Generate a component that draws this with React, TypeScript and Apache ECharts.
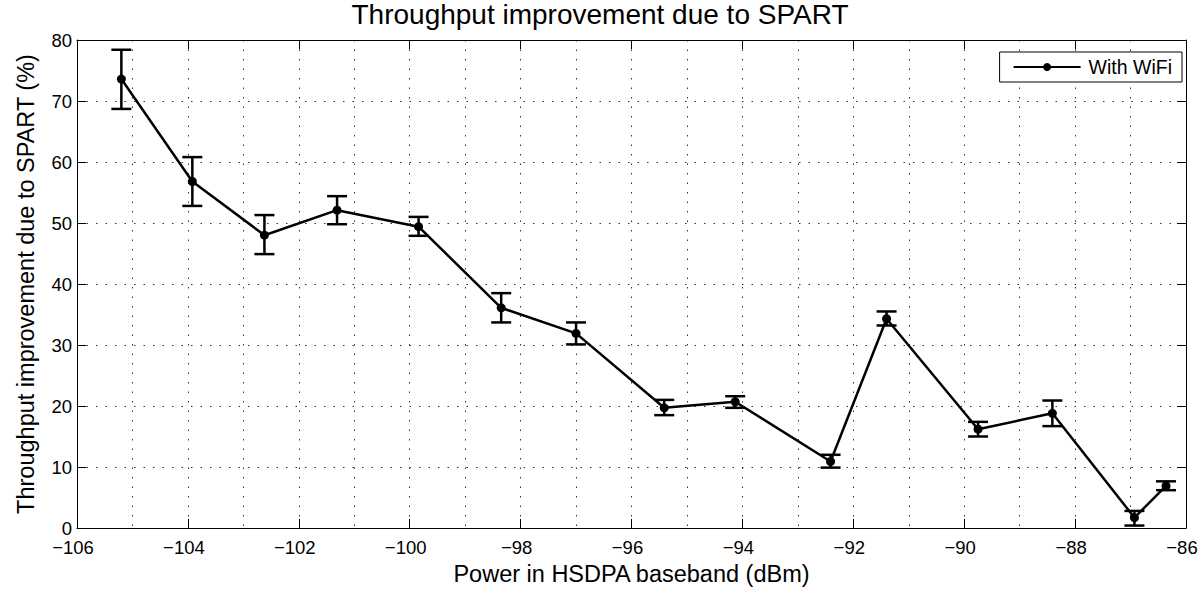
import React, { useEffect, useRef } from "react";
import * as echarts from "echarts";

const powerDbm = [-105.2, -103.92, -102.62, -101.31, -99.84, -98.35, -97.0, -95.41, -94.13, -92.41, -91.4, -89.75, -88.41, -86.93, -86.36];
const improvement = [73.6, 56.8, 48.0, 52.1, 49.4, 36.1, 31.9, 19.7, 20.7, 10.9, 34.3, 16.2, 18.8, 1.7, 6.9];
const errLow = [68.7, 52.8, 44.9, 49.8, 47.9, 33.7, 30.1, 18.5, 19.7, 9.9, 33.2, 15.0, 16.7, 0.4, 6.2];
const errHigh = [78.4, 60.8, 51.3, 54.4, 51.0, 38.5, 33.7, 21.0, 21.6, 12.0, 35.5, 17.4, 20.9, 2.8, 7.65];

const titleText = "Throughput improvement due to SPART";
const xLabel = "Power in HSDPA baseband (dBm)";
const yLabel = "Throughput improvement due to SPART (%)";
const seriesName = "With WiFi";

const FONT = "Liberation Sans, Arial, Helvetica, sans-serif";
const minus = (v: number) => String(v).replace("-", "\u2212");

export default function App() {
  const ref = useRef<HTMLDivElement>(null);
  useEffect(() => {
    if (!ref.current) return;
    const chart = echarts.init(ref.current, null, { renderer: "svg" });
    const dotted = { show: true, lineStyle: { color: "#333", width: 1, type: [1.5, 8] as any } };
    chart.setOption({
      animation: false,
      backgroundColor: "#fff",
      textStyle: { fontFamily: FONT, color: "#000" },
      title: {
        text: titleText,
        left: "center",
        top: 0,
        padding: [0, 0, 0, 0],
        textStyle: { fontFamily: FONT, fontSize: 28, fontWeight: "normal", color: "#000" },
      },
      legend: {
        data: [{ name: seriesName }],
        right: 18,
        top: 52,
        orient: "horizontal",
        backgroundColor: "#fff",
        borderColor: "#000",
        borderWidth: 1,
        borderRadius: 0,
        padding: [5, 10, 5, 13],
        itemWidth: 67,
        itemHeight: 10,
        itemGap: 6,
        textStyle: { fontFamily: FONT, fontSize: 19.5, color: "#000", padding: [0, 0, 0, 3] },
      },
      grid: { left: 77, right: 14, top: 40, bottom: 66, containLabel: false, outerBoundsMode: "none" } as any,
      xAxis: [
        {
          type: "value",
          min: -106,
          max: -86,
          interval: 2,
          name: xLabel,
          nameLocation: "middle",
          nameGap: 32,
          nameTextStyle: { fontFamily: FONT, fontSize: 23.5, color: "#000" },
          axisLine: { show: true, onZero: false, lineStyle: { color: "#000", width: 1 } },
          axisTick: { show: true, inside: true, length: 9, lineStyle: { color: "#000" } },
          axisLabel: { fontFamily: FONT, fontSize: 18.5, color: "#000", margin: 10, formatter: minus, padding: [0, 8, 0, 0] },
          splitLine: dotted,
          minorTick: { show: false, splitNumber: 2 },
          minorSplitLine: dotted,
        },
        {
          type: "value",
          position: "top",
          min: -106,
          max: -86,
          interval: 2,
          axisLine: { show: true, onZero: false, lineStyle: { color: "#000", width: 1 } },
          axisTick: { show: true, inside: true, length: 9, lineStyle: { color: "#000" } },
          axisLabel: { show: false },
          splitLine: { show: false },
        },
      ],
      yAxis: [
        {
          type: "value",
          min: 0,
          max: 80,
          interval: 10,
          name: yLabel,
          nameLocation: "middle",
          nameGap: 39,
          nameTextStyle: { fontFamily: FONT, fontSize: 23.5, color: "#000" },
          axisLine: { show: true, onZero: false, lineStyle: { color: "#000", width: 1 } },
          axisTick: { show: true, inside: true, length: 9, lineStyle: { color: "#000" } },
          axisLabel: { fontFamily: FONT, fontSize: 18.5, color: "#000", margin: 5 },
          splitLine: dotted,
        },
        {
          type: "value",
          position: "right",
          min: 0,
          max: 80,
          interval: 10,
          axisLine: { show: true, onZero: false, lineStyle: { color: "#000", width: 1 } },
          axisTick: { show: true, inside: true, length: 9, lineStyle: { color: "#000" } },
          axisLabel: { show: false },
          splitLine: { show: false },
        },
      ],
      series: [
        {
          name: seriesName,
          type: "line",
          data: powerDbm.map((x, i) => [x, improvement[i]]),
          symbol: "circle",
          symbolSize: 9,
          lineStyle: { color: "#000", width: 2.5 },
          itemStyle: { color: "#000" },
          z: 3,
        },
        {
          name: "errorbars",
          type: "custom",
          data: powerDbm.map((x, i) => [x, errLow[i], errHigh[i]]),
          renderItem: (params: any, api: any) => {
            const x = api.value(0);
            const lo = api.value(1);
            const hi = api.value(2);
            const pHi = api.coord([x, hi]);
            const pLo = api.coord([x, lo]);
            const half = 10;
            const style = { stroke: "#000", lineWidth: 2.5 };
            return {
              type: "group",
              children: [
                { type: "line", shape: { x1: pHi[0], y1: pHi[1], x2: pLo[0], y2: pLo[1] }, style },
                { type: "line", shape: { x1: pHi[0] - half, y1: pHi[1], x2: pHi[0] + half, y2: pHi[1] }, style },
                { type: "line", shape: { x1: pLo[0] - half, y1: pLo[1], x2: pLo[0] + half, y2: pLo[1] }, style },
              ],
            };
          },
          z: 2,
        },
      ],
    });
    return () => chart.dispose();
  }, []);
  return (
    <div
      ref={ref}
      style={{ position: "fixed", left: 0, top: 0, width: 1200, height: 594, background: "#fff" }}
    />
  );
}
